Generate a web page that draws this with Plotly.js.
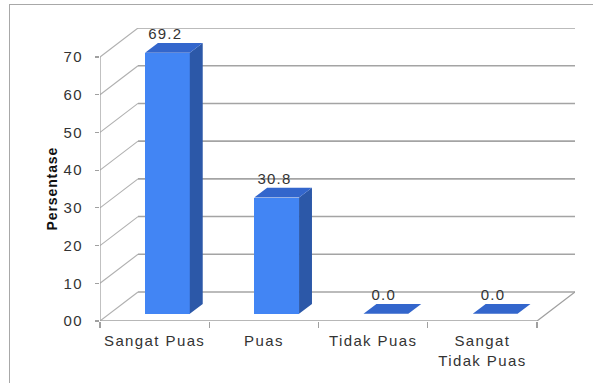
<!DOCTYPE html>
<html>
<head>
<meta charset="utf-8">
<script src="https://cdn.plot.ly/plotly-3.0.1.min.js"></script>
<style>
  html, body { margin: 0; padding: 0; background: #fff; }
  #wrap { position: relative; width: 593px; height: 383px; overflow: hidden; }
  #frame { position: absolute; left: 9px; top: 4px; width: 600px; height: 400px;
           border-left: 1.5px solid #a8a8a8; border-top: 1.5px solid #a8a8a8; pointer-events: none; }
  #chart { position: absolute; left: 0; top: 0; width: 593px; height: 383px; }
  #chart .xtick text, #chart .ytick text { letter-spacing: 1.4px; }
  #chart .textpoint text { letter-spacing: 1.2px; }
  #chart .annotation-text { letter-spacing: 0.9px; }
</style>
</head>
<body>
<div id="wrap">
  <div id="chart"></div>
  <div id="frame"></div>
</div>
<script>
// ---- data ----
const categories = ["Sangat Puas", "Puas", "Tidak Puas", "Sangat<br>Tidak Puas"];
const values = [69.2, 30.8, 0.0, 0.0];
const yTickVals = [0, 10, 20, 30, 40, 50, 60, 70];
const yTickText = ["00", "10", "20", "30", "40", "50", "60", "70"];
const yTitle = "Persentase";

// ---- 3D projection constants (axis units) ----
const DX = 38 / 109.25;   // depth offset in x units
const DY = 29 / 3.771;    // depth offset in y units
const F0 = 0.25, F1 = 0.59; // bar depth range (fraction of floor depth)
const BW = 0.41, BOFF = 0.03;
const N = categories.length;
const xL = -0.5, xR = N - 0.5;
const yTop = yTickVals[yTickVals.length - 1];

const gridCol = '#a4a4a4';
const idx = categories.map((c, i) => i);

// back-wall gridlines
const bgx = [], bgy = [];
yTickVals.forEach(v => { bgx.push(xL + DX, xR + DX, null); bgy.push(v + DY, v + DY, null); });
// left-wall diagonals
const lgx = [], lgy = [];
yTickVals.forEach(v => { lgx.push(xL, xL + DX, null); lgy.push(v, v + DY, null); });
// front-left vertical edge + floor front & right edges
const fex = [xL, xL, null, xL, xR, xR + DX];
const fey = [yTop, 0, null, 0, 0, DY];

// bar faces
const b0 = F0 * DY, sx = F0 * DX;
const dd = (F1 - F0) * DX, ddy = (F1 - F0) * DY;
const sideX = [], sideY = [], topX = [], topY = [];
values.forEach((v, i) => {
  const xl = i + BOFF - BW / 2 + sx, xr = i + BOFF + BW / 2 + sx;
  if (v > 0) {
    sideX.push(xr, xr + dd, xr + dd, xr, xr, null);
    sideY.push(b0, b0 + ddy, v + b0 + ddy, v + b0, b0, null);
  }
  topX.push(xl, xr, xr + dd, xl + dd, xl, null);
  topY.push(v + b0, v + b0, v + b0 + ddy, v + b0 + ddy, v + b0, null);
});

const lineTrace = (x, y, col, w) => ({
  type: 'scatter', mode: 'lines', x, y, line: { color: col, width: w },
  hoverinfo: 'skip', showlegend: false, cliponaxis: false, zorder: 0
});

const data = [
  lineTrace(bgx, bgy, gridCol, 1.6),
  lineTrace(lgx, lgy, '#b0b0b0', 1.1),
  lineTrace(fex, fey, '#a0a0a0', 1.3),
  {
    type: 'bar', x: idx.map(i => i + BOFF + sx), y: values,
    base: values.map(() => b0), width: BW,
    marker: { color: '#4285f4', line: { width: 0 } },
    showlegend: false, zorder: 1, hovertemplate: '%{y}<extra></extra>'
  },
  {
    type: 'scatter', mode: 'lines', x: sideX, y: sideY, fill: 'toself',
    fillcolor: '#2c58a8', line: { width: 0, color: '#2c58a8' },
    hoverinfo: 'skip', showlegend: false, cliponaxis: false, zorder: 2
  },
  {
    type: 'scatter', mode: 'lines', x: topX, y: topY, fill: 'toself',
    fillcolor: '#3366cc', line: { width: 0, color: '#3366cc' },
    hoverinfo: 'skip', showlegend: false, cliponaxis: false, zorder: 2
  },
  {
    type: 'scatter', mode: 'text', x: idx.map(i => i + BOFF + sx - 0.02),
    y: values.map(v => v + F1 * DY),
    text: values.map(v => v.toFixed(1)), textposition: 'top center',
    textfont: { family: 'Liberation Sans, Arial, sans-serif', size: 15, color: '#333' },
    hoverinfo: 'skip', showlegend: false, cliponaxis: false, zorder: 3
  },
  // boundary tick marks on x
  {
    type: 'scatter', mode: 'markers', x: [xL], y: [0], xaxis: 'x2',
    marker: { opacity: 0 }, hoverinfo: 'skip', showlegend: false
  }
];

const layout = {
  width: 593, height: 383,
  margin: { l: 100, r: 18, t: 28, b: 62, pad: 0 },
  paper_bgcolor: 'rgba(0,0,0,0)', plot_bgcolor: 'rgba(0,0,0,0)',
  font: { family: 'Liberation Sans, Arial, sans-serif', size: 15, color: '#333' },
  bargap: 0,
  xaxis: {
    range: [xL, xR + DX], tickmode: 'array', tickvals: idx, ticktext: categories,
    showgrid: false, zeroline: false, showline: false, ticks: '',
    ticklabelstandoff: 9, tickfont: { size: 15, color: '#333' }, fixedrange: true
  },
  xaxis2: {
    overlaying: 'x', anchor: 'y', side: 'bottom', range: [xL, xR + DX],
    tickmode: 'array', tickvals: idx.map(i => i - 0.5).concat([xR]),
    showticklabels: false, ticks: 'outside', ticklen: 6, tickcolor: '#a0a0a0', tickwidth: 1.2,
    showgrid: false, zeroline: false, showline: false
  },
  yaxis: {
    range: [0, yTop + DY], tickmode: 'array', tickvals: yTickVals, ticktext: yTickText,
    showgrid: false, zeroline: false, showline: false,
    ticks: 'outside', ticklen: 4, tickcolor: '#a0a0a0', tickwidth: 1.2,
    ticklabelstandoff: 9, tickfont: { size: 15, color: '#333' },
    fixedrange: true
  },
  annotations: [{
    text: yTitle, textangle: -90, showarrow: false,
    xref: 'paper', yref: 'y', x: -48 / 475, y: yTop / 2, xanchor: 'center', yanchor: 'middle',
    font: { size: 14, color: '#111', weight: 'bold' }
  }]
};

Plotly.newPlot('chart', data, layout, { displayModeBar: false, staticPlot: true });
</script>
</body>
</html>
